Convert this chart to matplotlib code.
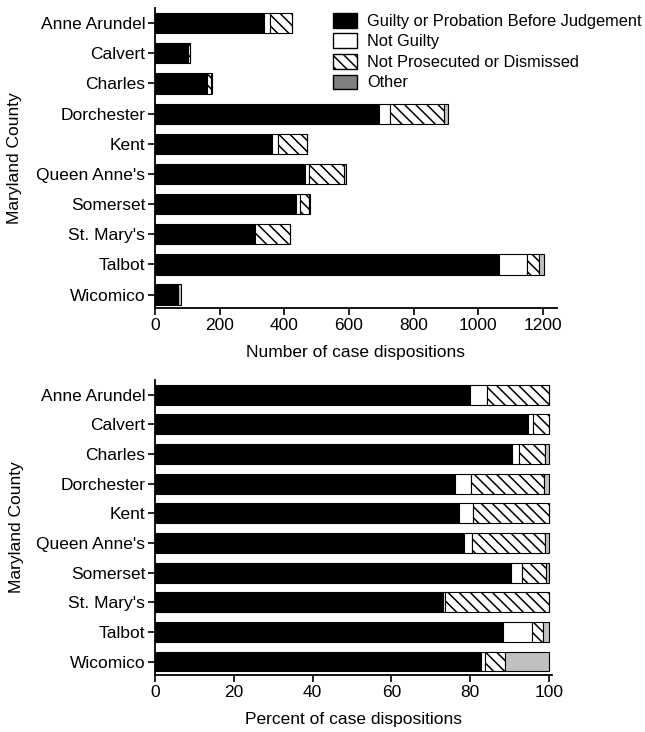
import numpy as np
import matplotlib.pyplot as plt
from matplotlib.patches import Patch

plt.rcParams['font.family'] = ['Liberation Sans', 'DejaVu Sans']
plt.rcParams['hatch.linewidth'] = 1.1

counties = ['Anne Arundel', 'Calvert', 'Charles', 'Dorchester', 'Kent',
            "Queen Anne's", 'Somerset', "St. Mary's", 'Talbot', 'Wicomico']
categories = ['Guilty or Probation Before Judgement', 'Not Guilty',
              'Not Prosecuted or Dismissed', 'Other']

# liczby rozstrzygnięć (górny wykres)
n_guilty = [338, 102, 159, 692, 363, 463, 435, 306, 1064, 66]
n_not_guilty = [18, 1, 3, 36, 17, 12, 13, 2, 87, 1]
n_not_prosecuted = [67, 5, 11, 167, 91, 110, 29, 110, 36, 4]
n_other = [0, 0, 2, 12, 0, 6, 4, 0, 17, 9]

# procenty (dolny wykres)
p_guilty = [79.9, 94.7, 90.7, 76.3, 77.1, 78.4, 90.5, 73.1, 88.4, 82.9]
p_not_guilty = [4.3, 1.3, 1.8, 4.0, 3.7, 2.1, 2.7, 0.6, 7.2, 0.8]
p_not_prosecuted = [15.8, 4.0, 6.5, 18.4, 19.2, 18.5, 6.0, 26.3, 3.0, 5.1]
p_other = [0.0, 0.0, 1.0, 1.3, 0.0, 1.0, 0.8, 0.0, 1.4, 11.2]

styles = [dict(color='black'),
          dict(color='white'),
          dict(color='white', hatch='\\\\\\'),
          dict(color='#c0c0c0')]

fs = 12.5
fig = plt.figure(figsize=(6.45, 7.32), dpi=100)
ax1 = fig.add_axes([0.2403, 0.579, 0.623, 0.41])
ax2 = fig.add_axes([0.2403, 0.078, 0.6155, 0.403])


def stacked(ax, series):
    y = np.arange(len(counties))
    left = np.zeros(len(counties))
    for vals, st in zip(series, styles):
        vals = np.array(vals, dtype=float)
        ax.barh(y, vals, left=left, height=0.67, edgecolor='black',
                linewidth=0.8, **st)
        left += vals
    ax.set_yticks(y)
    ax.set_yticklabels(counties)
    ax.set_ylim(9.45, -0.5)
    ax.set_ylabel('Maryland County', fontsize=fs)
    ax.yaxis.set_label_coords(-0.33, 0.5)
    for s in ['top', 'right']:
        ax.spines[s].set_visible(False)
    ax.spines['left'].set_linewidth(1.3)
    ax.spines['bottom'].set_linewidth(1.3)
    ax.tick_params(direction='out', length=5, width=1.2, labelsize=fs, pad=2)


stacked(ax1, [n_guilty, n_not_guilty, n_not_prosecuted, n_other])
ax1.set_xlim(0, 1243)
ax1.set_xticks(np.arange(0, 1201, 200))
ax1.set_xlabel('Number of case dispositions', fontsize=fs, labelpad=9)

stacked(ax2, [p_guilty, p_not_guilty, p_not_prosecuted, p_other])
ax2.set_xlim(0, 100.8)
ax2.set_xticks(np.arange(0, 101, 20))
ax2.set_xlabel('Percent of case dispositions', fontsize=fs, labelpad=9)

handles = [Patch(facecolor='black', edgecolor='black'),
           Patch(facecolor='white', edgecolor='black'),
           Patch(facecolor='white', edgecolor='black', hatch='\\\\\\'),
           Patch(facecolor='#808080', edgecolor='black')]
fig.legend(handles, categories, loc='upper left', bbox_to_anchor=(0.498, 0.998),
           frameon=False, fontsize=11.8, handlelength=1.5, handleheight=1.0,
           labelspacing=0.28, handletextpad=0.6, borderaxespad=0.3)

fig.savefig('out.png', dpi=100)
